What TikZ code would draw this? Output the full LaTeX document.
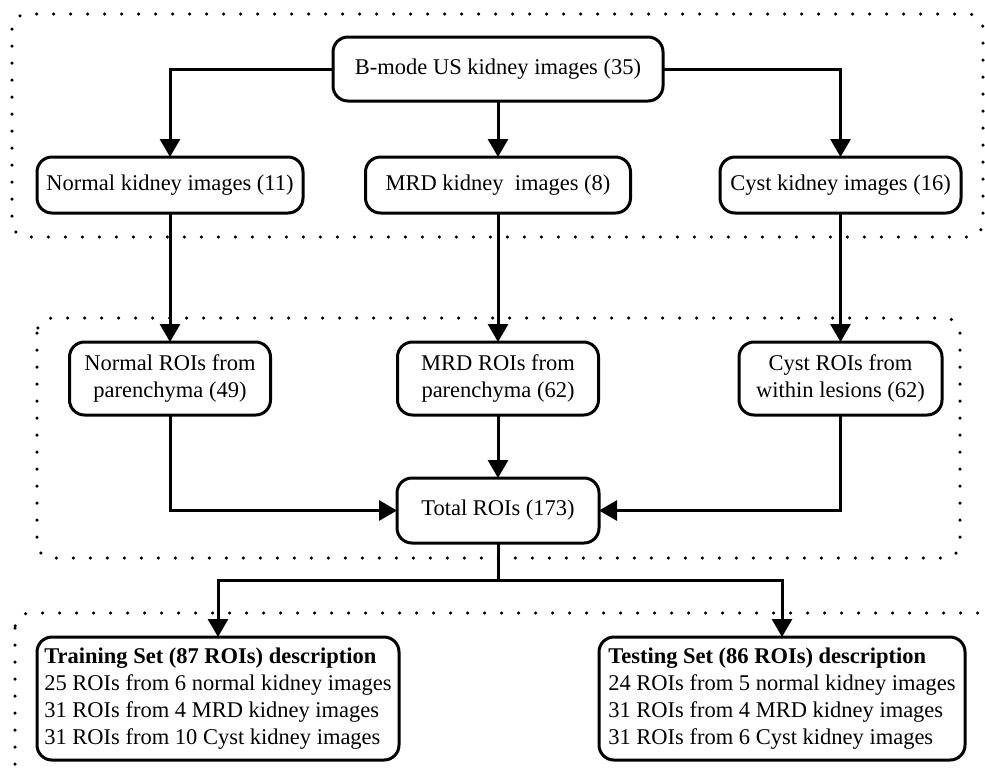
\documentclass[tikz,border=0pt]{standalone}
\usepackage{fontspec}
\setmainfont{Liberation Serif}
\usepackage{tikz}
\usetikzlibrary{arrows.meta,shapes,positioning}

\begin{document}
\begin{tikzpicture}[>={Triangle[length=0.36cm,width=0.4cm]}, line width=0.06cm, font=\fontsize{12.8}{15.4}\selectfont]
\tikzstyle{block}=[draw, shape=rectangle, rounded corners=0.3cm, inner sep=0.1cm, outer sep=0pt, align=center]
\tikzstyle{group}=[line width=0.07cm, line cap=round, dash pattern=on 0pt off 0.34cm, rounded corners=0.3cm]
\useasboundingbox (0,0) rectangle (19.7,-15.38);

\node[block, minimum width=6.6cm, minimum height=1.28cm] (0) at (9.96,-1.38) {B-mode US kidney images (35)};
\node[block, minimum width=5.3cm, minimum height=1.12cm] (2) [below=1.12cm of 0] {MRD kidney~ images (8)};
\node[block, minimum width=5.32cm, minimum height=1.12cm] (1) [left=1.25cm of 2] {Normal kidney images (11)};
\node[block, minimum width=4.82cm, minimum height=1.12cm] (3) [right=1.79cm of 2] {Cyst kidney images (16)};

\node[block, minimum width=4.02cm, minimum height=1.46cm] (4) [below=2.58cm of 1] {Normal ROIs from\\parenchyma (49)};
\node[block, minimum width=4.02cm, minimum height=1.46cm] (5) [below=2.58cm of 2] {MRD ROIs from\\parenchyma (62)};
\node[block, minimum width=4.06cm, minimum height=1.46cm] (6) [below=2.58cm of 3] {Cyst ROIs from\\within lesions (62)};
\node[block, minimum width=4.04cm, minimum height=1.3cm] (7) [below=1.26cm of 5] {Total ROIs (173)};

\node[block, align=left, minimum width=7.24cm, minimum height=2.46cm] (8) [below=1.88cm of 7, xshift=-5.6cm] {\textbf{Training Set (87 ROIs) description}\\25 ROIs from 6 normal kidney images\\31 ROIs from 4 MRD kidney images\\31 ROIs from 10 Cyst kidney images};
\node[block, align=left, minimum width=7.32cm, minimum height=2.46cm] (9) [below=1.88cm of 7, xshift=5.68cm] {\textbf{Testing Set (86 ROIs) description}\\24 ROIs from 5 normal kidney images\\31 ROIs from 4 MRD kidney images\\31 ROIs from 6 Cyst kidney images};

\draw[group] (0.24,-0.28) rectangle (19.66,-4.74);
\draw[group] (0.74,-6.36) rectangle (19.2,-11.16);
\draw[group] (0.3,-12.26) rectangle (19.85,-15.6);

\draw[->] (0.west) -| (1.north);
\draw[->] (0) -- (2);
\draw[->] (0.east) -| (3.north);
\draw[->] (1) -- (4);
\draw[->] (2) -- (5);
\draw[->] (3) -- (6);
\draw[->] (4.south) |- (7.west);
\draw[->] (5) -- (7);
\draw[->] (6.south) |- (7.east);
\draw (7.south) -- ++(0,-0.74) coordinate (10);
\draw[->] (10) -| (8.north);
\draw[->] (10) -| (9.north);

\end{tikzpicture}
\end{document}
